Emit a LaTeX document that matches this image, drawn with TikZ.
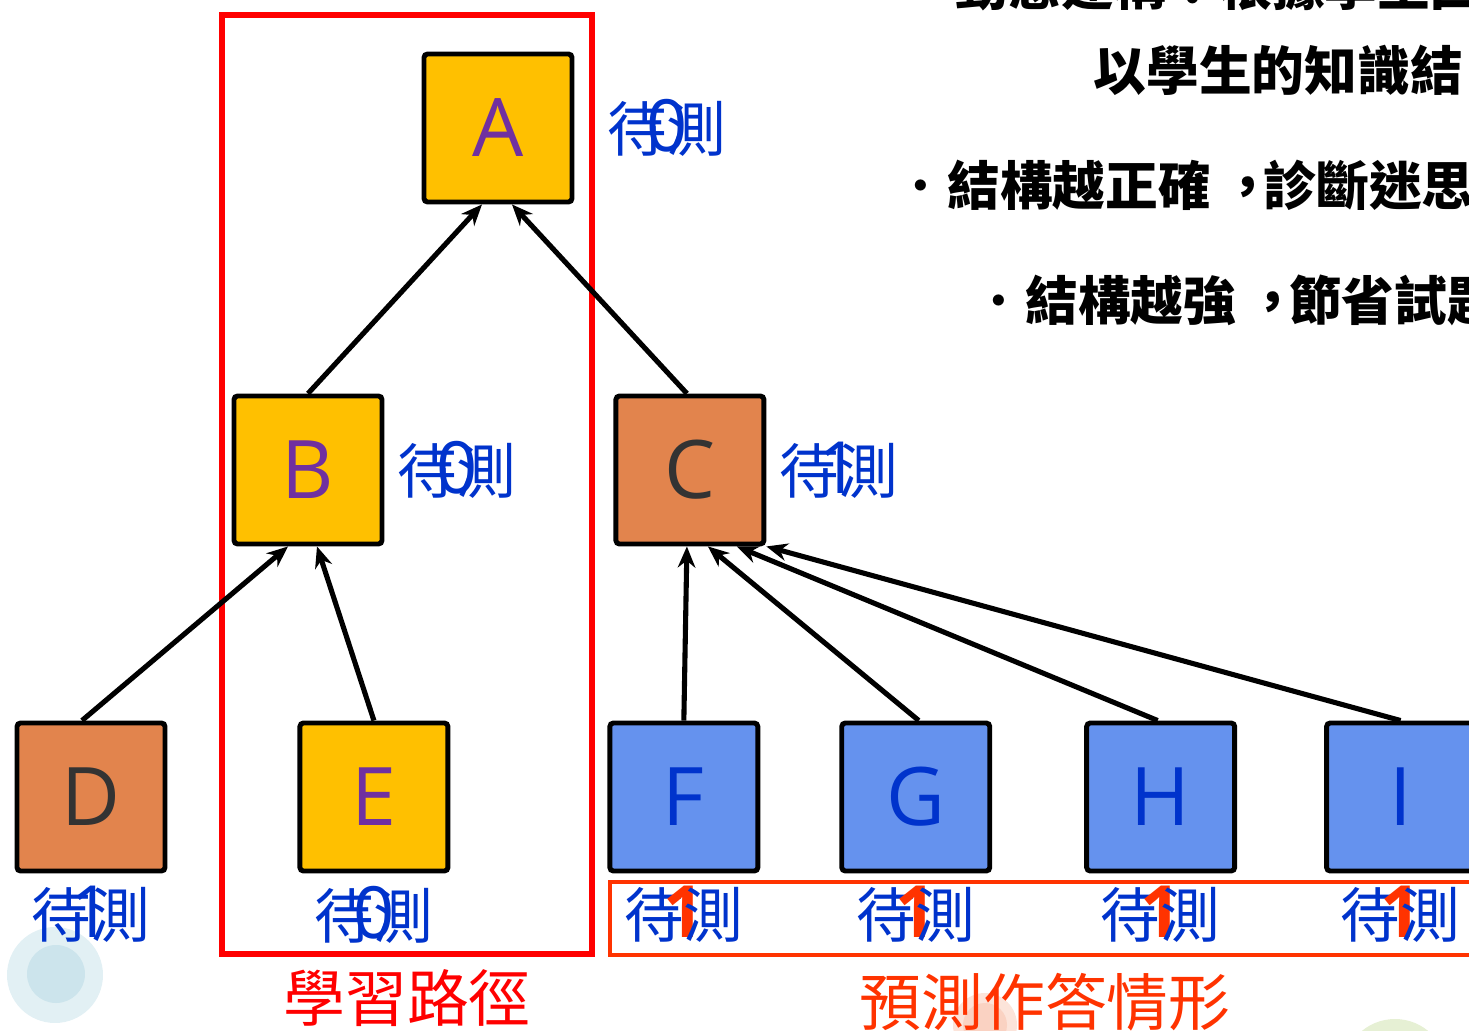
\documentclass[tikz,border=0pt]{standalone}
\usepackage{fontspec}
\setmainfont{Open Sans}
\newfontfamily\cjk[Script=CJK, Language=Chinese Traditional]{Noto Sans CJK TC}
\usepackage{tikz}
\usetikzlibrary{arrows.meta, positioning}
\usepackage{xcolor}

\definecolor{boxgold}{HTML}{FFC000}
\definecolor{boxorange}{HTML}{E2844D}
\definecolor{boxblue}{HTML}{6592EE}
\definecolor{lettpurple}{HTML}{7030A0}
\definecolor{lettgray}{HTML}{333333}
\definecolor{markblue}{HTML}{0033CC}
\definecolor{predred}{HTML}{FF3300}
\definecolor{dotblue}{HTML}{E2F0F4}
\definecolor{dotblueinner}{HTML}{CCE4EC}
\definecolor{dotpink}{HTML}{FCE4DA}
\definecolor{dotpinkinner}{HTML}{FAD2C2}
\definecolor{dotgreen}{HTML}{E6F0D4}

\newcommand{\waitmark}[2]{待\makebox[0pt]{\normalfont\fontsize{20.5}{24}\selectfont\color{#2}#1}測}
\newcommand{\midcomma}{\kern0.2em，\kern-0.2em}

\begin{document}
\begin{tikzpicture}[
    box/.style={draw, line width=1.4pt, rounded corners=1pt, minimum size=1.48cm, inner sep=0pt, font=\fontsize{23}{26}\selectfont},
    goldbox/.style={box, fill=boxgold, text=lettpurple},
    orangebox/.style={box, fill=boxorange, text=lettgray},
    bluebox/.style={box, fill=boxblue, text=markblue},
    waitlabel/.style={inner sep=0pt, text=markblue, font=\cjk\fontsize{17}{20}\selectfont},
    caption/.style={inner sep=0pt, font=\cjk\fontsize{17.6}{20}\selectfont},
    textline/.style={inner sep=0pt, anchor=west, font=\cjk\bfseries\fontsize{15}{18}\selectfont},
    arrow/.style={-{Stealth[length=6pt, width=5pt]}, line width=1.45pt}
]
\clip (0,0) rectangle (14.69,10.30);

% Background dots
\fill[dotblue] (0.55,0.55) circle (0.48);
\fill[dotblueinner] (0.56,0.56) circle (0.29);
\fill[dotpink] (9.85,0.05) circle (0.32);
\fill[dotpinkinner] (9.85,0.05) circle (0.22);
\fill[dotgreen] (13.95,-0.41) circle (0.52);

% Text lines
\node[textline] (line0) at (9.55,10.45) {動態建構：根據學生回答};
\node[textline] (line1) at (10.93,9.60) {以學生的知識結};
\node[textline] (line2) at (8.94,8.45) {{\mdseries ・}結構越正確\midcomma 診斷迷思};
\node[textline] (line3) at (9.72,7.30) {{\mdseries ・}結構越強\midcomma 節省試題};

% Frames
\node[draw=red, line width=1.7pt, minimum width=3.70cm, minimum height=9.39cm] (pathbox) at (4.07,5.455) {};
\node[draw=predred, line width=1.2pt, minimum width=8.8cm, minimum height=0.73cm] (predbox) at (10.50,1.115) {};
\node[caption, text=red, below=0.12cm of pathbox] (pathcap) {學習路徑};
\node[caption, text=predred] (predcap) at (10.45,0.28) {預測作答情形};

% Nodes
\node[goldbox] (A) at (4.98,9.02) {A};
\node[goldbox] (B) at (3.08,5.60) {B};
\node[orangebox] (C) [right=2.29cm of B] {C};
\node[orangebox] (D) at (0.91,2.33) {D};
\node[goldbox] (E) [right=1.30cm of D] {E};
\node[bluebox] (F) [right=1.57cm of E] {F};
\node[bluebox] (G) [right=0.79cm of F] {G};
\node[bluebox] (H) [right=0.92cm of G] {H};
\node[bluebox] (I) [right=0.87cm of H] {I};

% Labels
\node[waitlabel] (labA) [right=0.32cm of A] {\waitmark{0}{markblue}};
\node[waitlabel] (labB) [right=0.12cm of B] {\waitmark{0}{markblue}};
\node[waitlabel] (labC) [right=0.12cm of C] {\waitmark{1}{markblue}};
\node[waitlabel] (labD) [below=0.12cm of D] {\waitmark{1}{markblue}};
\node[waitlabel] (labE) [below=0.12cm of E] {\waitmark{0}{markblue}};
\node[waitlabel] (labF) [below=0.12cm of F] {\waitmark{\bfseries 1}{predred}};
\node[waitlabel] (labG) [below=0.12cm of G] {\waitmark{\bfseries 1}{predred}};
\node[waitlabel] (labH) [below=0.12cm of H] {\waitmark{\bfseries 1}{predred}};
\node[waitlabel] (labI) [below=0.12cm of I] {\waitmark{\bfseries 1}{predred}};

% Arrows
\draw[arrow] (B.north) -- ([xshift=-0.16cm]A.south);
\draw[arrow] ([xshift=-0.03cm]C.north) -- ([xshift=0.14cm]A.south);
\draw[arrow] ([xshift=-0.09cm]D.north) -- ([xshift=-0.20cm]B.south);
\draw[arrow] (E.north) -- ([xshift=0.09cm]B.south);
\draw[arrow] (F.north) -- ([xshift=-0.03cm]C.south);
\draw[arrow] ([xshift=0.03cm]G.north) -- ([xshift=0.18cm]C.south);
\draw[arrow] ([xshift=-0.03cm]H.north) -- ([xshift=0.47cm]C.south);
\draw[arrow] (I.north) -- (C.south east);

\end{tikzpicture}
\end{document}
